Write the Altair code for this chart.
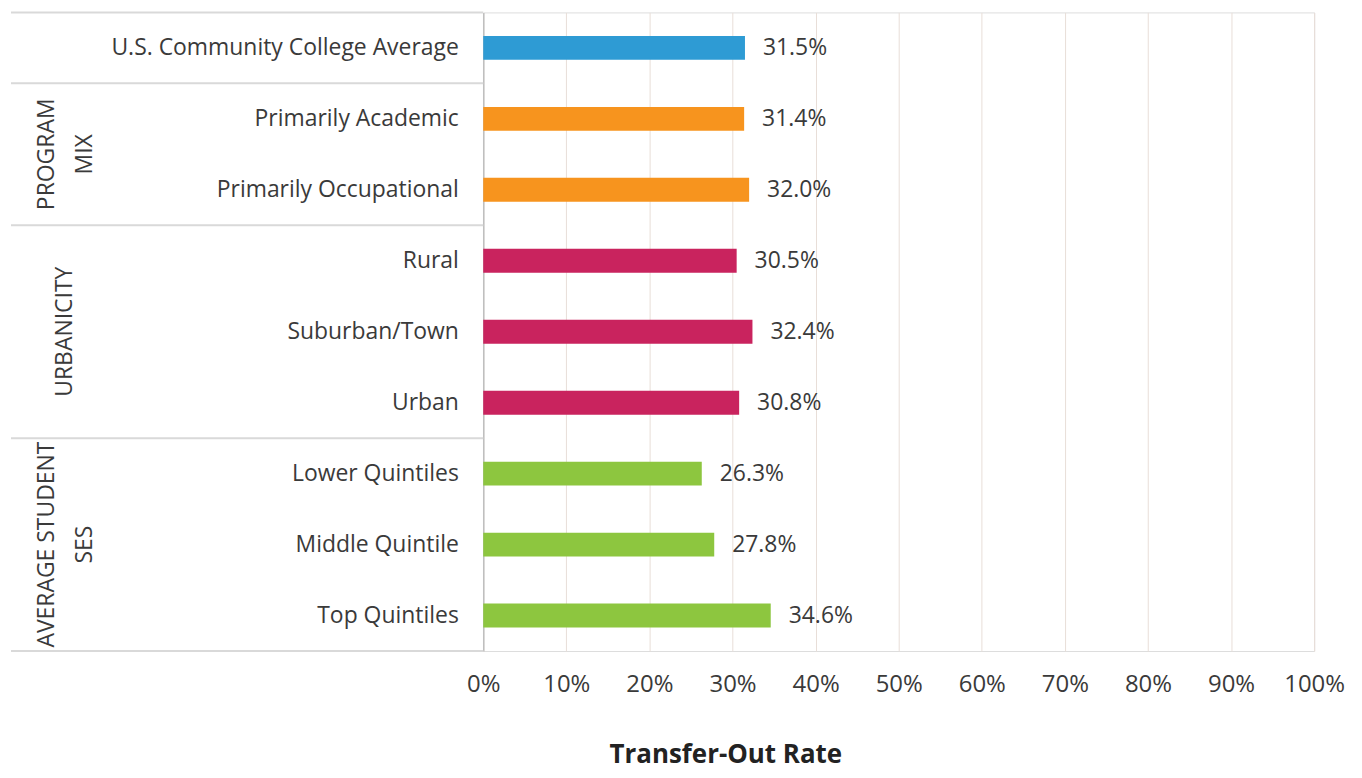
import altair as alt
import pandas as pd

categories = ["U.S. Community College Average", "Primarily Academic", "Primarily Occupational",
              "Rural", "Suburban/Town", "Urban",
              "Lower Quintiles", "Middle Quintile", "Top Quintiles"]
values = [31.5, 31.4, 32.0, 30.5, 32.4, 30.8, 26.3, 27.8, 34.6]
groups = ["Average", "Program Mix", "Program Mix", "Urbanicity", "Urbanicity", "Urbanicity",
          "SES", "SES", "SES"]
group_names = ["Average", "Program Mix", "Urbanicity", "SES"]
group_colors = ["#2E9BD4", "#F7941E", "#C9235E", "#8DC63F"]
x_ticks = [0, 10, 20, 30, 40, 50, 60, 70, 80, 90, 100]
separator_cats = ["U.S. Community College Average", "Primarily Academic", "Rural", "Lower Quintiles"]

FONT = "Open Sans"
TXT = "#3A3A3A"
FS = 23

df = pd.DataFrame({"cat": categories, "v": values, "g": groups})
sep_df = pd.DataFrame({"cat": separator_cats})
bottom_df = pd.DataFrame({"cat": [categories[-1]]})

yscale = alt.Scale(domain=categories, paddingInner=0, paddingOuter=0)

base_y = alt.Y("cat:N", scale=yscale, sort=categories,
               axis=alt.Axis(title=None, ticks=False, labelPadding=25, labelFont=FONT,
                             labelFontSize=FS, labelColor=TXT, labelLimit=500,
                             domainColor="#BFBFBF", domainWidth=1.5))

bars = alt.Chart(df).mark_bar(size=24).encode(
    x=alt.X("v:Q", scale=alt.Scale(domain=[0, 100], nice=False),
            axis=alt.Axis(values=x_ticks, labelExpr="datum.value + '%'", labelFont=FONT,
                          labelFontSize=24, labelColor=TXT, labelPadding=22, ticks=False,
                          labelFlush=False, labelOverlap=False,
                          domain=False, grid=True, gridColor="#E8DED8", gridWidth=1,
                          title="Transfer-Out Rate", titleFont=FONT, titleFontSize=26,
                          titleFontWeight="bold", titleColor="#222222",
                          titleX=243, titleY=104, titleAnchor="start", titleAlign="center",
                          titleBaseline="middle")),
    y=base_y,
    color=alt.Color("g:N", scale=alt.Scale(domain=group_names, range=group_colors), legend=None),
)

labels = alt.Chart(df).transform_calculate(
    lab="format(datum.v, '.1f') + '%'"
).mark_text(align="left", baseline="middle", dx=18, font=FONT, fontSize=FS, color=TXT).encode(
    x="v:Q", y=alt.Y("cat:N", scale=yscale, sort=categories), text="lab:N"
)

seps = alt.Chart(sep_df).mark_rule(color="#D9D9D9", strokeWidth=2).encode(
    x=alt.value(-474), x2=alt.value(0),
    y=alt.Y("cat:N", scale=yscale, sort=categories, bandPosition=0),
)
bottom = alt.Chart(bottom_df).mark_rule(color="#D9D9D9", strokeWidth=2).encode(
    x=alt.value(-474), x2=alt.value(0),
    y=alt.Y("cat:N", scale=yscale, sort=categories, bandPosition=1),
)

gtxt = dict(angle=270, align="center", baseline="middle", font=FONT, fontSize=FS,
            color=TXT, lineHeight=38)

g_prog = alt.Chart(pd.DataFrame({"cat": ["Primarily Occupational"], "t": [["PROGRAM", "MIX"]]})).mark_text(**gtxt).encode(
    x=alt.value(-438), y=alt.Y("cat:N", scale=yscale, sort=categories, bandPosition=0), text="t")
g_urb = alt.Chart(pd.DataFrame({"cat": ["Suburban/Town"], "t": ["URBANICITY"]})).mark_text(**gtxt).encode(
    x=alt.value(-420), y=alt.Y("cat:N", scale=yscale, sort=categories, bandPosition=0.5), text="t:N")
g_ses = alt.Chart(pd.DataFrame({"cat": ["Middle Quintile"], "t": [["AVERAGE STUDENT", "SES"]]})).mark_text(**gtxt).encode(
    x=alt.value(-438), y=alt.Y("cat:N", scale=yscale, sort=categories, bandPosition=0.5), text="t")

chart = alt.layer(bars, labels, seps, bottom, g_prog, g_urb, g_ses).properties(
    width=834, height=641,
    autosize=alt.AutoSizeParams(type="none"),
    padding={"left": 477, "top": 3, "right": 40, "bottom": 118},
).configure_view(stroke="#C8C8C8", strokeWidth=1.5).configure(background="white")

chart.save("out.html", embed_options={"renderer": "svg", "actions": False})
